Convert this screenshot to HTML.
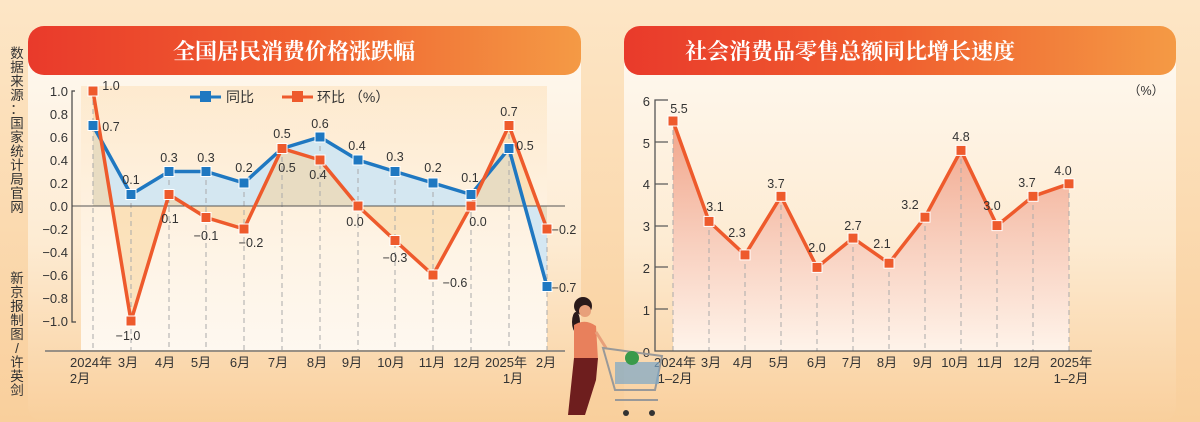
<!DOCTYPE html>
<html><head><meta charset="utf-8"><style>
body{margin:0;width:1200px;height:422px;overflow:hidden;background:linear-gradient(180deg,#fde6c6 0%,#f9cf9c 100%);}
svg{display:block}
text{font-family:"Liberation Sans","Noto Sans CJK SC",sans-serif;}
.t{font-family:"Noto Serif CJK SC",serif;font-weight:bold;fill:#fff;font-size:22px}
.l{font-size:12.5px;fill:#333}
.ax{font-size:13px;fill:#333}
</style></head><body>
<svg width="1200" height="422" viewBox="0 0 1200 422">
<defs>
<linearGradient id="tb" x1="0" x2="1"><stop offset="0" stop-color="#e93a2b"/><stop offset="0.5" stop-color="#f0602f"/><stop offset="1" stop-color="#f49a45"/></linearGradient>
<linearGradient id="pb" x1="0" y1="0" x2="0" y2="1"><stop offset="0" stop-color="#fffaf3"/><stop offset="0.55" stop-color="#fdebd2"/><stop offset="1" stop-color="#f9cf9c"/></linearGradient>
<linearGradient id="rf" x1="0" y1="0" x2="0" y2="1"><stop offset="0" stop-color="#ef9c80"/><stop offset="1" stop-color="#fff6f0"/></linearGradient>
<linearGradient id="lw" x1="0" y1="0" x2="0" y2="1"><stop offset="0" stop-color="#fde7c8"/><stop offset="1" stop-color="#ffffff"/></linearGradient>
</defs>
<rect x="28" y="26" width="553" height="396" rx="16" fill="url(#pb)"/>
<rect x="624" y="26" width="552" height="396" rx="16" fill="url(#pb)"/>
<rect x="28" y="26" width="553" height="49" rx="16" fill="url(#tb)"/>
<rect x="624" y="26" width="552" height="49" rx="16" fill="url(#tb)"/>
<text class="t" x="294" y="59" text-anchor="middle">全国居民消费价格涨跌幅</text>
<text class="t" x="850" y="59" text-anchor="middle">社会消费品零售总额同比增长速度</text>
<g font-size="13.5" fill="#333" text-anchor="middle">
<text x="17" y="58">数</text><text x="17" y="72">据</text><text x="17" y="86">来</text><text x="17" y="100">源</text><text x="17" y="114">：</text><text x="17" y="128">国</text><text x="17" y="142">家</text><text x="17" y="156">统</text><text x="17" y="170">计</text><text x="17" y="184">局</text><text x="17" y="198">官</text><text x="17" y="212">网</text>
<text x="17" y="283">新</text><text x="17" y="297">京</text><text x="17" y="311">报</text><text x="17" y="325">制</text><text x="17" y="339">图</text><text x="17" y="353">/</text><text x="17" y="367">许</text><text x="17" y="381">英</text><text x="17" y="395">剑</text>
</g>
<rect x="81" y="86" width="466" height="264" fill="url(#lw)" opacity="0.8"/>
<polygon points="93,125.5 131,194.5 169,171.5 206,171.5 244,183 282,148.5 320,137 358,160 395,171.5 433,183 471,194.5 509,148.5 547,286.5 547,206 93,206" fill="#cfe5f3" opacity="0.9"/>
<polygon points="93,91 131,321 169,194.5 206,217.5 244,229 282,148.5 320,160 358,206 395,240.5 433,275 471,206 509,125.5 547,229 547,206 93,206" fill="#f8d49b" opacity="0.55"/>
<g stroke="#aaa" stroke-dasharray="5,4" stroke-width="1">
<line x1="93" y1="91" x2="93" y2="350"/><line x1="131" y1="194" x2="131" y2="350"/><line x1="169" y1="171" x2="169" y2="350"/><line x1="206" y1="171" x2="206" y2="350"/><line x1="244" y1="183" x2="244" y2="350"/><line x1="282" y1="148" x2="282" y2="350"/><line x1="320" y1="137" x2="320" y2="350"/><line x1="358" y1="160" x2="358" y2="350"/><line x1="395" y1="171" x2="395" y2="350"/><line x1="433" y1="183" x2="433" y2="350"/><line x1="471" y1="194" x2="471" y2="350"/><line x1="509" y1="125" x2="509" y2="350"/><line x1="547" y1="229" x2="547" y2="350"/>
</g>
<line x1="72" y1="206" x2="565" y2="206" stroke="#555" stroke-width="1"/>
<line x1="45" y1="351" x2="565" y2="351" stroke="#777" stroke-width="1.5"/>
<polyline points="75,91 72,91 72,322 76,322" fill="none" stroke="#444" stroke-width="1.2"/>
<g class="ax" text-anchor="end">
<text x="68" y="96">1.0</text><text x="68" y="119">0.8</text><text x="68" y="142">0.6</text><text x="68" y="165">0.4</text><text x="68" y="188">0.2</text><text x="68" y="211">0.0</text><text x="68" y="234">−0.2</text><text x="68" y="257">−0.4</text><text x="68" y="280">−0.6</text><text x="68" y="303">−0.8</text><text x="68" y="326">−1.0</text>
</g>
<polyline points="93,125.5 131,194.5 169,171.5 206,171.5 244,183 282,148.5 320,137 358,160 395,171.5 433,183 471,194.5 509,148.5 547,286.5" fill="none" stroke="#1f78c1" stroke-width="3.5"/>
<polyline points="93,91 131,321 169,194.5 206,217.5 244,229 282,148.5 320,160 358,206 395,240.5 433,275 471,206 509,125.5 547,229" fill="none" stroke="#ee5a2c" stroke-width="3.5"/>
<g fill="#1f78c1" stroke="#fff" stroke-width="1">
<rect x="88" y="120.5" width="10" height="10"/><rect x="126" y="189.5" width="10" height="10"/><rect x="164" y="166.5" width="10" height="10"/><rect x="201" y="166.5" width="10" height="10"/><rect x="239" y="178" width="10" height="10"/><rect x="315" y="132" width="10" height="10"/><rect x="353" y="155" width="10" height="10"/><rect x="390" y="166.5" width="10" height="10"/><rect x="428" y="178" width="10" height="10"/><rect x="466" y="189.5" width="10" height="10"/><rect x="504" y="143.5" width="10" height="10"/><rect x="542" y="281.5" width="10" height="10"/>
</g>
<g fill="#ee5a2c" stroke="#fff" stroke-width="1">
<rect x="88" y="86" width="10" height="10"/><rect x="126" y="316" width="10" height="10"/><rect x="164" y="189.5" width="10" height="10"/><rect x="201" y="212.5" width="10" height="10"/><rect x="239" y="224" width="10" height="10"/><rect x="277" y="143.5" width="10" height="10"/><rect x="315" y="155" width="10" height="10"/><rect x="353" y="201" width="10" height="10"/><rect x="390" y="235.5" width="10" height="10"/><rect x="428" y="270" width="10" height="10"/><rect x="466" y="201" width="10" height="10"/><rect x="504" y="120.5" width="10" height="10"/><rect x="542" y="224" width="10" height="10"/>
</g>
<g class="l" text-anchor="middle">
<text x="111" y="90">1.0</text><text x="111" y="131">0.7</text><text x="131" y="184">0.1</text><text x="128" y="340">−1.0</text><text x="169" y="162">0.3</text><text x="170" y="223">0.1</text><text x="206" y="162">0.3</text><text x="206" y="240">−0.1</text><text x="244" y="172">0.2</text><text x="251" y="247">−0.2</text><text x="282" y="138">0.5</text><text x="287" y="172">0.5</text><text x="320" y="128">0.6</text><text x="318" y="179">0.4</text><text x="357" y="150">0.4</text><text x="355" y="226">0.0</text><text x="395" y="161">0.3</text><text x="395" y="262">−0.3</text><text x="433" y="172">0.2</text><text x="455" y="287">−0.6</text><text x="470" y="182">0.1</text><text x="478" y="226">0.0</text><text x="509" y="116">0.7</text><text x="525" y="150">0.5</text><text x="564" y="234">−0.2</text><text x="564" y="292">−0.7</text>
</g>
<line x1="190" y1="97" x2="221" y2="97" stroke="#1f78c1" stroke-width="3"/><rect x="200" y="91" width="11" height="11" fill="#1f78c1"/>
<text x="226" y="102" font-size="14" fill="#333">同比</text>
<line x1="282" y1="97" x2="313" y2="97" stroke="#ee5a2c" stroke-width="3"/><rect x="292" y="91" width="11" height="11" fill="#ee5a2c"/>
<text x="317" y="102" font-size="14" fill="#333">环比 （%）</text>
<g class="ax" text-anchor="middle">
<text x="91" y="367">2024年</text><text x="80" y="383">2月</text><text x="128" y="367">3月</text><text x="165" y="367">4月</text><text x="201" y="367">5月</text><text x="240" y="367">6月</text><text x="278" y="367">7月</text><text x="317" y="367">8月</text><text x="352" y="367">9月</text><text x="391" y="367">10月</text><text x="432" y="367">11月</text><text x="467" y="367">12月</text><text x="506" y="367">2025年</text><text x="513" y="383">1月</text><text x="546" y="367">2月</text>
</g>
<polygon points="673,121 709,221.4 745,254.9 781,196.3 817,267.4 853,238.1 889,263.2 925,217.2 961,150.4 997,225.6 1033,196.3 1069,183.8 1069,351 673,351" fill="url(#rf)" opacity="0.9"/>
<g stroke="#aaa" stroke-dasharray="5,4" stroke-width="1">
<line x1="673" y1="121" x2="673" y2="351"/><line x1="709" y1="221" x2="709" y2="351"/><line x1="745" y1="255" x2="745" y2="351"/><line x1="781" y1="196" x2="781" y2="351"/><line x1="817" y1="267" x2="817" y2="351"/><line x1="853" y1="238" x2="853" y2="351"/><line x1="889" y1="263" x2="889" y2="351"/><line x1="925" y1="217" x2="925" y2="351"/><line x1="961" y1="150" x2="961" y2="351"/><line x1="997" y1="225" x2="997" y2="351"/><line x1="1033" y1="196" x2="1033" y2="351"/><line x1="1069" y1="184" x2="1069" y2="351"/>
</g>
<polyline points="668,100 655,100 655,351 1092,351" fill="none" stroke="#555" stroke-width="1.3"/>
<g stroke="#555" stroke-width="1.2"><line x1="655" y1="142" x2="668" y2="142"/><line x1="655" y1="184" x2="668" y2="184"/><line x1="655" y1="226" x2="668" y2="226"/><line x1="655" y1="267" x2="668" y2="267"/><line x1="655" y1="309" x2="668" y2="309"/></g>
<g class="ax" text-anchor="end">
<text x="650" y="106">6</text><text x="650" y="148">5</text><text x="650" y="189">4</text><text x="650" y="231">3</text><text x="650" y="273">2</text><text x="650" y="315">1</text><text x="650" y="357">0</text>
</g>
<text x="1128" y="95" font-size="12.5" fill="#333">（%）</text>
<polyline points="673,121 709,221.4 745,254.9 781,196.3 817,267.4 853,238.1 889,263.2 925,217.2 961,150.4 997,225.6 1033,196.3 1069,183.8" fill="none" stroke="#ee5a2c" stroke-width="3.5"/>
<g fill="#ee5a2c" stroke="#fff" stroke-width="1">
<rect x="668" y="116" width="10" height="10"/><rect x="704" y="216.4" width="10" height="10"/><rect x="740" y="249.9" width="10" height="10"/><rect x="776" y="191.3" width="10" height="10"/><rect x="812" y="262.4" width="10" height="10"/><rect x="848" y="233.1" width="10" height="10"/><rect x="884" y="258.2" width="10" height="10"/><rect x="920" y="212.2" width="10" height="10"/><rect x="956" y="145.4" width="10" height="10"/><rect x="992" y="220.6" width="10" height="10"/><rect x="1028" y="191.3" width="10" height="10"/><rect x="1064" y="178.8" width="10" height="10"/>
</g>
<g class="l" text-anchor="middle">
<text x="679" y="113">5.5</text><text x="715" y="211">3.1</text><text x="737" y="237">2.3</text><text x="776" y="188">3.7</text><text x="817" y="252">2.0</text><text x="853" y="230">2.7</text><text x="882" y="248">2.1</text><text x="910" y="209">3.2</text><text x="961" y="141">4.8</text><text x="992" y="210">3.0</text><text x="1027" y="187">3.7</text><text x="1063" y="175">4.0</text>
</g>
<g class="ax" text-anchor="middle">
<text x="675" y="367">2024年</text><text x="675" y="383">1–2月</text><text x="711" y="367">3月</text><text x="743" y="367">4月</text><text x="779" y="367">5月</text><text x="817" y="367">6月</text><text x="852" y="367">7月</text><text x="887" y="367">8月</text><text x="923" y="367">9月</text><text x="955" y="367">10月</text><text x="990" y="367">11月</text><text x="1027" y="367">12月</text><text x="1071" y="367">2025年</text><text x="1071" y="383">1–2月</text>
</g>
<g>
<circle cx="583" cy="306" r="9" fill="#2a1a1a"/>
<ellipse cx="576" cy="322" rx="4" ry="10" fill="#2a1a1a"/>
<circle cx="585" cy="311" r="6" fill="#e8a07a"/>
<path d="M574,325 Q585,318 596,326 L598,360 L574,360 Z" fill="#e8805c"/>
<path d="M574,358 L598,358 L596,380 L585,415 L576,415 L585,380 L578,415 L568,415 Z" fill="#6e1e1e"/>
<line x1="596" y1="332" x2="606" y2="348" stroke="#e8a07a" stroke-width="3"/>
<path d="M603,348 L615,390 L655,390 L662,356 Z" fill="none" stroke="#999" stroke-width="2"/>
<rect x="615" y="362" width="44" height="22" fill="#7aa6c8" opacity="0.7"/>
<circle cx="632" cy="358" r="7" fill="#3a9a4a"/>
<line x1="615" y1="400" x2="658" y2="400" stroke="#999" stroke-width="2"/>
<circle cx="626" cy="413" r="3" fill="#333"/><circle cx="652" cy="413" r="3" fill="#333"/>
</g>
</svg>
</body></html>
